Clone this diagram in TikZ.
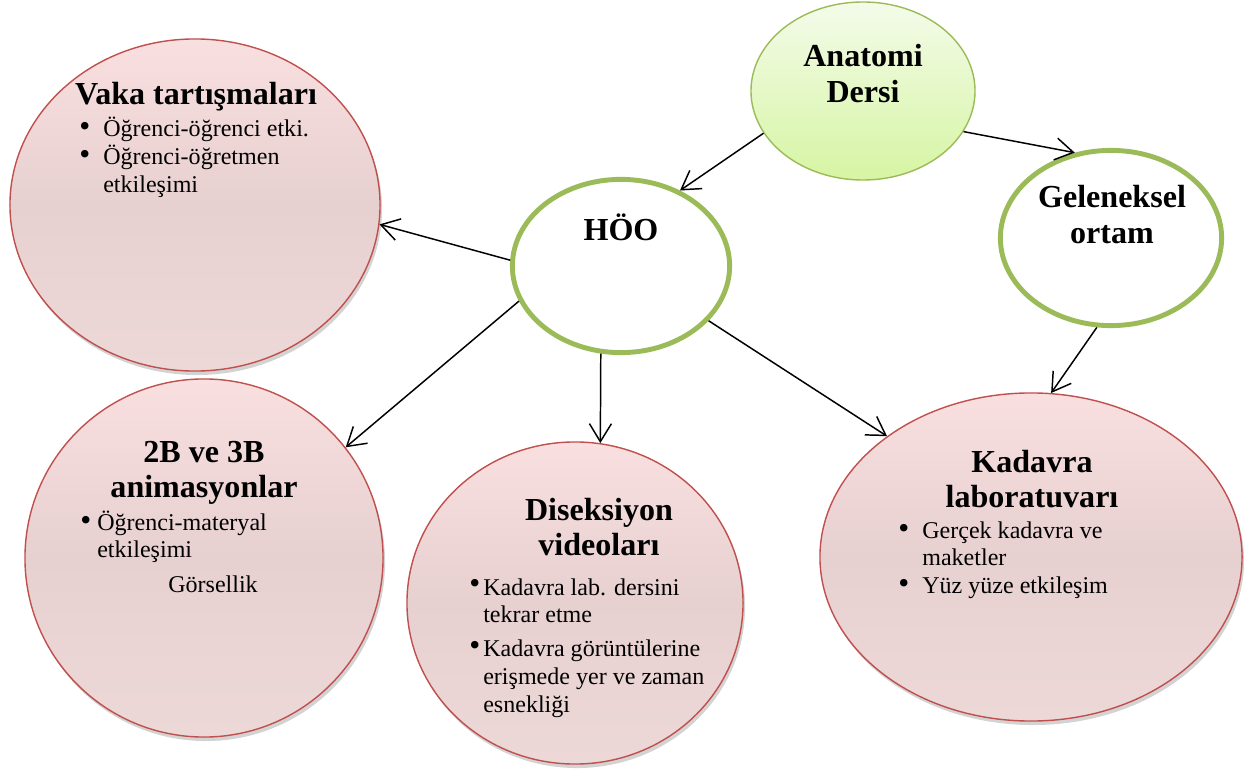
\documentclass[tikz,border=0pt]{standalone}
\usepackage{fontspec}
\setmainfont{Liberation Serif}
\usetikzlibrary{shapes.geometric}
\usetikzlibrary{shadows}
\usetikzlibrary{arrows.meta}

\definecolor{pinkline}{RGB}{192,80,77}
\definecolor{pinktop}{RGB}{249,223,224}
\definecolor{pinkmid}{RGB}{231,208,208}
\definecolor{pinkbot}{RGB}{237,216,216}
\definecolor{greenline}{RGB}{155,187,89}
\definecolor{greentop}{RGB}{244,251,234}
\definecolor{greenbot}{RGB}{214,245,163}

\newcommand{\blt}{\scalebox{1.3}{\textbullet}}

\begin{document}
\begin{tikzpicture}
[x = 0.025cm, y = -0.025cm, 
post/.style = {-{Straight Barb[length = 4.5mm, width = 5.5mm]}, line width = 1.05pt}, 
topic/.style = {ellipse, draw = pinkline, line width = 1pt, top color = pinktop, bottom color = pinkbot, middle color = pinkmid, drop shadow = {shadow xshift = 0.5mm, shadow yshift = -1mm, opacity = 0.35}, inner sep = 0pt}, 
hub/.style = {ellipse, draw = greenline, line width = 3.5pt, fill = white, inner sep = 0pt}, 
course/.style = {ellipse, draw = greenline, line width = 1pt, top color = greentop, bottom color = greenbot, inner sep = 0pt}, 
title/.style = {font = \fontsize{22.8}{25.3}\selectfont\bfseries, inner sep = 0pt, anchor = base}, 
body/.style = {font = \fontsize{17.1}{19.9}\selectfont, inner sep = 0pt, anchor = base west}]

\useasboundingbox (0, 0) rectangle (1244, 774);

\node[topic, minimum width = 9.25cm, minimum height = 8.3cm] (vaka) at (195, 205) {};
\node[topic, minimum width = 8.95cm, minimum height = 8.95cm] (anim) at (204, 558) {};
\node[topic, minimum width = 8.4cm, minimum height = 8.05cm] (dis) at (575, 603) {};
\node[topic, minimum width = 10.55cm, minimum height = 8.2cm] (kad) at (1031, 557) {};
\node[course, minimum width = 5.6cm, minimum height = 4.45cm] (anat) at (863, 91) {};
\node[hub, minimum width = 5.53cm, minimum height = 4.38cm] (gel) at (1111, 238) {};
\node[hub, minimum width = 5.43cm, minimum height = 4.33cm] (hoo) at (621, 266) {};

% titles
\node[title] (anatt) at (863, 67) {\begin{tabular}[t]{@{}c@{}}Anatomi\\Dersi\end{tabular}};
\node[title] (gelt) at (1112, 208) {\begin{tabular}[t]{@{}c@{}}Geleneksel\\ortam\end{tabular}};
\node[title] (hoot) at (621, 241) {HÖO};
\node[title] (vakat) at (196, 105) {Vaka tartışmaları};
\node[title] (animt) at (204, 462) {\begin{tabular}[t]{@{}c@{}}2B ve 3B\\animasyonlar\end{tabular}};
\node[title] (dist) at (599, 520) {\begin{tabular}[t]{@{}c@{}}Diseksiyon\\videoları\end{tabular}};
\node[title] (kadt) at (1032, 472) {\begin{tabular}[t]{@{}c@{}}Kadavra\\laboratuvarı\end{tabular}};

% bullet lists
\node[body] (vakab) at (79, 137) {\begin{tabular}[t]{@{}p{0.6cm}@{}l@{}}
\blt & Öğrenci-öğrenci etki.\\
\blt & Öğrenci-öğretmen\\
 & etkileşimi\end{tabular}};
\node[body] (animb) at (80, 530) {\begin{tabular}[t]{@{}p{0.425cm}@{}l@{}}
\blt & Öğrenci-materyal\\
 & etkileşimi\end{tabular}};
\node[body, anchor = base] (animg) at (213, 592) {Görsellik};
\node[body] (disb) at (469, 595) {\begin{tabular}[t]{@{}p{0.35cm}@{}l@{}}
\raisebox{0.04cm}{\blt} & Kadavra lab. dersini\\
 & tekrar etme\\[0.15cm]
\raisebox{0.04cm}{\blt} & Kadavra görüntülerine\\
 & erişmede yer ve zaman\\
 & esnekliği\end{tabular}};
\node[body] (kadb) at (898, 538) {\begin{tabular}[t]{@{}p{0.6cm}@{}l@{}}
\blt & Gerçek kadavra ve\\
 & maketler\\
\blt & Yüz yüze etkileşim\end{tabular}};

% connectors
\draw[post] (anat.203) -- (hoo.52);
\draw[post] (anat.-22) -- (gel.113);
\draw[post] (hoo.177) -- (vaka.-6);
\draw[post] (hoo.199) -- (anim.38);
\draw[post] (hoo.257) -- (dis.81);
\draw[post] (hoo.-32) -- (kad.140);
\draw[post] (gel.261) -- (kad.83);
\end{tikzpicture}
\end{document}
